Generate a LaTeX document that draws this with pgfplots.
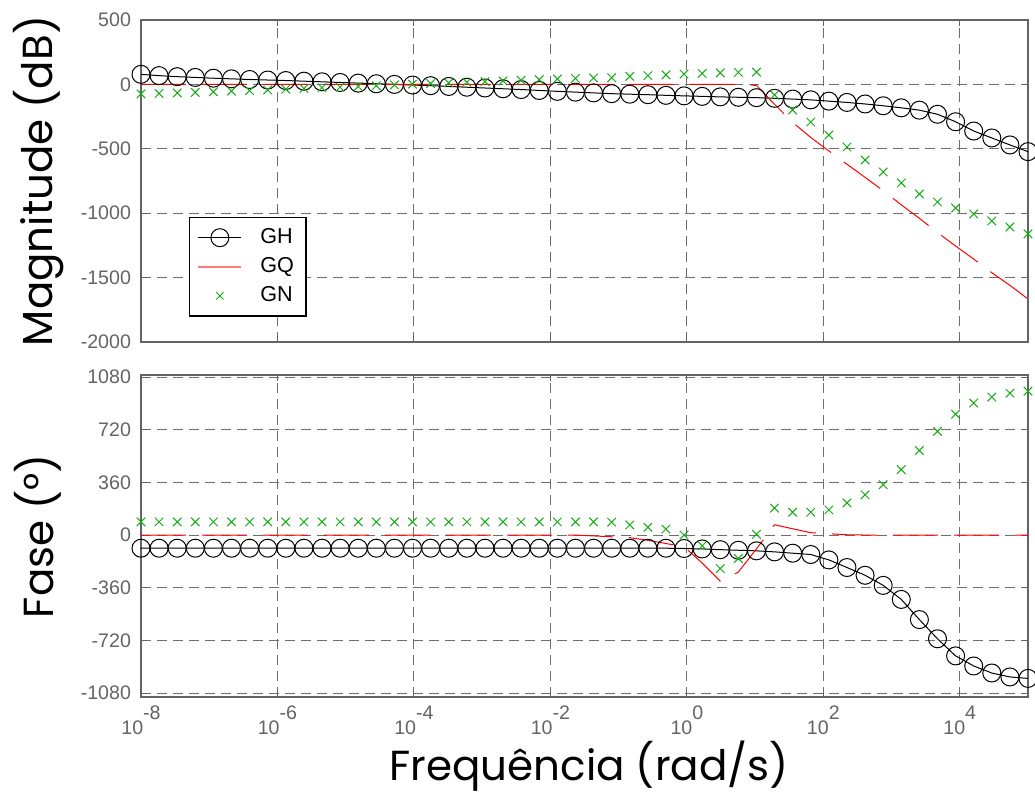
\documentclass[border=0pt]{standalone}
\usepackage{fontspec}
\setmainfont{Liberation Sans}
\newfontfamily\labelfont{Poppins}
\usepackage{pgfplots}
\usepackage{pgfplotstable}
\pgfplotsset{compat=1.18}

\definecolor{gngreen}{RGB}{20,170,20}
\definecolor{tickgray}{RGB}{100,100,100}
\definecolor{gridgray}{RGB}{110,110,110}
\definecolor{legred}{RGB}{255,120,120}

% lx = log10 of frequency (rad/s)
\pgfplotstableread{
lx mH mQ mN pH pQ pN
-8.0000 78 0 -74 -90 0 90
-7.7347 68 0 -70 -90 0 90
-7.4694 60 0 -66 -90 0 90
-7.2041 54 0 -62 -90 0 90
-6.9388 48 0 -57 -90 0 90
-6.6735 43 0 -52 -90 0 90
-6.4082 38 0 -48 -90 0 90
-6.1429 34 0 -43 -90 0 90
-5.8776 30 0 -37 -90 0 90
-5.6122 25 0 -31 -90 0 90
-5.3469 20 0 -26 -90 0 90
-5.0816 15 0 -21 -90 0 90
-4.8163 10 0 -16 -90 0 90
-4.5510 5 0 -10 -90 0 90
-4.2857 0 0 -4 -90 0 90
-4.0204 -5 0 2 -90 0 90
-3.7551 -10 0 7 -90 0 90
-3.4898 -16 0 12 -90 0 90
-3.2245 -22 0 17 -90 0 90
-2.9592 -28 0 22 -90 0 90
-2.6939 -34 0 27 -90 0 90
-2.4286 -40 0 32 -90 0 90
-2.1633 -47 0 37 -90 0 90
-1.8980 -54 0 42 -90 0 90
-1.6327 -60 0 46 -90 0 90
-1.3673 -66 0 50 -90 -6 90
-1.1020 -72 0 52 -90 -12 88
-0.8367 -76 0 62 -90 -18 69
-0.5714 -80 0 68 -90 -36 53
-0.3061 -85 0 74 -90 -58 41
-0.0408 -89 0 80 -92 -80 0
0.2245 -93 0 85 -95 -191 -74
0.4898 -97 0 89 -100 -315 -229
0.7551 -100 0 93 -104 -253 -160
1.0204 -103 -8 95 -108 -94 5
1.2857 -108 -155 -82 -115 70 184
1.5510 -114 -295 -199 -124 43 156
1.8163 -120 -412 -292 -133 16 156
2.0816 -130 -517 -393 -170 9 172
2.3469 -140 -620 -486 -222 2 220
2.6122 -152 -722 -587 -275 0 275
2.8776 -166 -825 -680 -344 0 344
3.1429 -182 -935 -765 -440 0 447
3.4082 -200 -1040 -851 -578 0 578
3.6735 -232 -1150 -913 -709 0 709
3.9388 -290 -1255 -960 -826 0 826
4.2041 -362 -1356 -1006 -895 0 902
4.4694 -416 -1462 -1060 -943 0 943
4.7347 -470 -1560 -1107 -970 0 970
5.0000 -522 -1666 -1161 -980 0 984
}\data

\pgfplotsset{
  bodeaxis/.style={
    scale only axis, width=443.5pt, height=161pt,
    xmin=-8, xmax=5,
    xtick={-8,-6,-4,-2,0,2,4},
    grid=major,
    major grid style={gridgray, line width=0.5pt, dash pattern=on 5pt off 3pt},
    axis line style={tickgray, line width=0.8pt},
    tick style={tickgray, line width=0.5pt},
    major tick length=3pt,
    tick align=inside,
    tick pos=both,
    ticklabel style={font=\fontsize{9.8}{11}\selectfont, text=tickgray},
    yticklabel style={xshift=-1.5pt},
    clip=false,
    label style={font=\labelfont\fontsize{21}{24}\selectfont, text=black},
    ylabel style={at={(axis description cs:-0.116,0.5)}, anchor=center},
  },
  ghstyle/.style={black, line width=0.5pt, mark=o, mark size=4.5pt, mark options={solid}},
  gqstyle/.style={red, line width=0.5pt, dash pattern=on 22.5pt off 8pt},
  gnstyle/.style={gngreen, only marks, mark=x, mark size=3pt, mark options={line width=0.5pt}},
}

\begin{document}
\begin{tikzpicture}
\useasboundingbox (-70.5pt,10pt) rectangle (447pt,-388pt);
\begin{axis}[bodeaxis, at={(0pt,0pt)}, anchor=north west,
  ymin=-2000, ymax=500,
  ytick={-2000,-1500,-1000,-500,0,500},
  yticklabels={-2000,-1500,-1000,-500,0,500},
  xticklabels={},
  ylabel={Magnitude (dB)},
  legend style={at={(axis description cs:0.054,0.388)}, anchor=north west,
    draw=black, line width=0.6pt, fill=white,
    font=\fontsize{10.8}{12}\selectfont, row sep=1.5pt,
    inner xsep=4pt, inner ysep=3.5pt,
    /tikz/every odd column/.append style={column sep=7pt}},
  legend cell align=left,
  legend image code/.code={\draw[mark repeat=2, mark phase=2, #1] plot coordinates {(0pt,0pt) (10.75pt,0pt) (21.5pt,0pt)};},
]
\addplot[ghstyle, forget plot] table[x=lx, y=mH]{\data};
\addplot[gqstyle, forget plot] table[x=lx, y=mQ]{\data};
\addplot[gnstyle, forget plot] table[x=lx, y=mN]{\data};
\addlegendimage{black, line width=0.5pt, mark=o, mark size=4.5pt}
\addlegendentry{GH\hspace{10pt}}
\addlegendimage{legred, line width=0.9pt}
\addlegendentry{GQ\hspace{10pt}}
\addlegendimage{gngreen, only marks, mark=x, mark size=2.5pt, mark options={line width=0.5pt}}
\addlegendentry{GN\hspace{10pt}}
\end{axis}
\begin{axis}[bodeaxis, at={(0pt,-177.5pt)}, anchor=north west,
  ymin=-1107, ymax=1094,
  ytick={-1080,-720,-360,0,360,720,1080},
  yticklabels={-1080,-720,-360,0,360,720,1080},
  xticklabels={10\raisebox{7.5pt}{-8},10\raisebox{7.5pt}{-6},10\raisebox{7.5pt}{-4},10\raisebox{7.5pt}{-2},10\raisebox{7.5pt}{0},10\raisebox{7.5pt}{2},10\raisebox{7.5pt}{4}},
  xticklabel style={yshift=-1pt},
  xlabel={Frequência (rad/s)},
  xlabel style={at={(axis description cs:0.505,-0.216)}, anchor=center},
  ylabel={Fase (°)},
]
\addplot[ghstyle] table[x=lx, y=pH]{\data};
\addplot[gqstyle] table[x=lx, y=pQ]{\data};
\addplot[gnstyle] table[x=lx, y=pN]{\data};
\end{axis}
\end{tikzpicture}
\end{document}
